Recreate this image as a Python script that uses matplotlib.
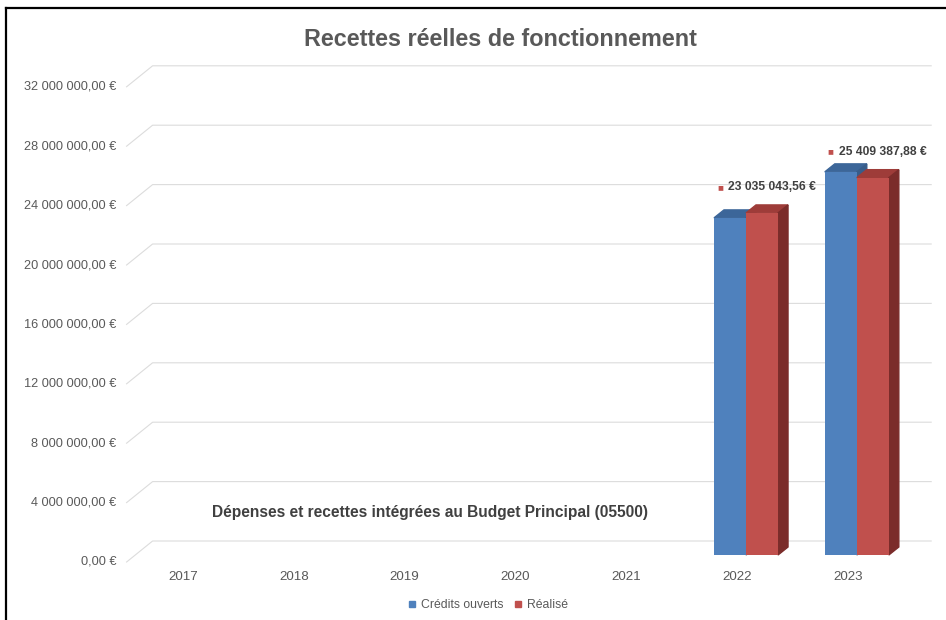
import numpy as np
import matplotlib.pyplot as plt
from matplotlib.patches import Polygon
from matplotlib.lines import Line2D

plt.rcParams['font.family'] = ['Liberation Sans', 'DejaVu Sans']

# Données
annees = ['2017', '2018', '2019', '2020', '2021', '2022', '2023']
credits_ouverts = [0, 0, 0, 0, 0, 22700000, 25800000]
realise = [0, 0, 0, 0, 0, 23035043.56, 25409387.88]
labels_realise = ['', '', '', '', '', '23 035 043,56 €', '25 409 387,88 €']
graduations = np.arange(0, 32000001, 4000000)

bleu, bleu_haut, bleu_cote = '#4F81BD', '#3C6699', '#385D8A'
rouge, rouge_haut, rouge_cote = '#C0504D', '#9E3C39', '#7B2C2A'


def euro(v):
    s = f"{v:,.2f}".replace(',', ' ').replace('.', ',')
    return s + ' €'


fig = plt.figure(figsize=(9.46, 6.2), dpi=100)
ax = fig.add_axes([136.6 / 946, 65 / 620, 775.6 / 946, 475.2 / 620])
ax.set_xlim(-0.5, 6.5)
ax.set_ylim(0, 32000000)
ax.axis('off')

# taille d'un pixel en unités de données
ux = 7 / 775.6
uy = 32000000 / 475.2

# grille avec perspective
for v in graduations:
    ax.plot([-0.5 - 10 * ux, -0.5 + 16 * ux, 6.5 + 19 * ux],
            [v - 7 * uy, v + 14 * uy, v + 14 * uy],
            color='#DCDCDC', lw=0.8, clip_on=False, zorder=0)
    ax.text(-0.5 - 20 * ux, v - 7 * uy, euro(v), ha='right', va='center',
            fontsize=9.2, color='#595959')

x = np.arange(len(annees))
w = 0.289
dx, dy = 10 * ux, 8 * uy


def barre_3d(xc, h, c_face, c_haut, c_cote, z):
    if h <= 0:
        return
    x0, x1 = xc - w / 2, xc + w / 2
    ax.bar(xc, h, w, color=c_face, zorder=z + 1)
    ax.add_patch(Polygon([(x0, h), (x1, h), (x1 + dx, h + dy), (x0 + dx, h + dy)],
                         closed=True, color=c_haut, zorder=z, clip_on=False))
    ax.add_patch(Polygon([(x1, 0), (x1 + dx, dy), (x1 + dx, h + dy), (x1, h)],
                         closed=True, color=c_cote, zorder=z, clip_on=False))


for i in range(len(annees)):
    barre_3d(x[i] - w / 2, credits_ouverts[i], bleu, bleu_haut, bleu_cote, 2)
    barre_3d(x[i] + w / 2, realise[i], rouge, rouge_haut, rouge_cote, 4)
    ax.text(x[i] - 9 * ux, -22 * uy, annees[i], ha='center', va='center',
            fontsize=9.6, color='#595959')
    if labels_realise[i]:
        ax.annotate('■', xy=(x[i] + w / 2, realise[i]), xytext=(-42, 26),
                    textcoords='offset pixels', ha='center', va='center',
                    fontsize=7, color=rouge)
        ax.annotate(labels_realise[i], xy=(x[i] + w / 2, realise[i]), xytext=(-34, 26),
                    textcoords='offset pixels', ha='left', va='center',
                    fontsize=8.7, fontweight='bold', color='#404040')

fig.text(500 / 946, 1 - 40 / 620, 'Recettes réelles de fonctionnement',
         ha='center', va='center', fontsize=16.8, fontweight='bold', color='#595959')
fig.text(430 / 946, 1 - 512 / 620,
         'Dépenses et recettes intégrées au Budget Principal (05500)',
         ha='center', va='center', fontsize=11.2, fontweight='bold', color='#404040')

handles = [Line2D([], [], marker='s', ls='', color=bleu, markersize=5),
           Line2D([], [], marker='s', ls='', color=rouge, markersize=5)]
fig.legend(handles, ['Crédits ouverts', 'Réalisé'], loc='center',
           bbox_to_anchor=(484 / 946, 1 - 605 / 620), ncol=2, frameon=False,
           fontsize=8.8, handletextpad=-0.3, columnspacing=0.2, labelcolor='#595959')

# cadre
fig.add_artist(Line2D([6 / 946, 6 / 946], [0, 1 - 8 / 620], color='black', lw=1.6))
fig.add_artist(Line2D([6 / 946, 1], [1 - 8 / 620, 1 - 8 / 620], color='black', lw=1.6))

fig.savefig('out.png', dpi=100)
